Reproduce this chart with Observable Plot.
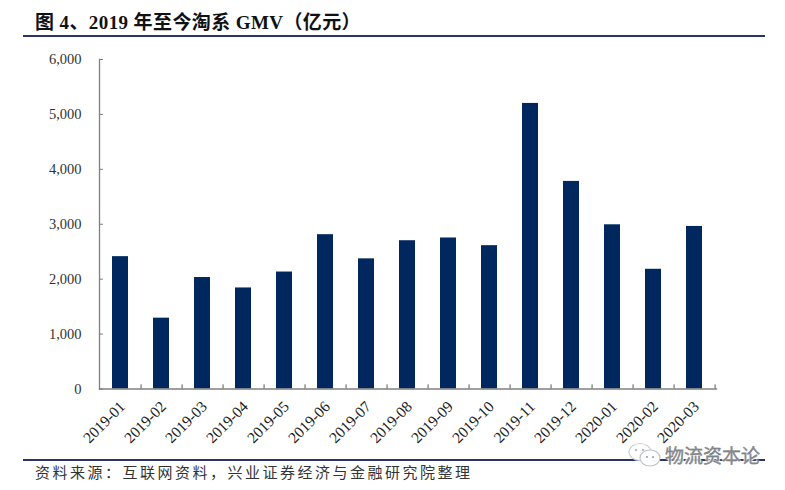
<!DOCTYPE html>
<html><head><meta charset="utf-8">
<script src="https://cdn.jsdelivr.net/npm/d3@7"></script>
<script src="https://cdn.jsdelivr.net/npm/@observablehq/plot@0.6"></script>
<style>
html,body{margin:0;padding:0;background:#fff;width:785px;height:490px;overflow:hidden}
#page{position:relative;width:785px;height:490px}
#title{position:absolute;left:23px;width:742px;top:0;height:35px;border-bottom:2.5px solid #2a3567;box-sizing:content-box;
 font:bold 19px "Liberation Serif","Noto Sans CJK SC",serif;color:#111;line-height:46px;white-space:nowrap;text-indent:12px;letter-spacing:.4px}
#chart{position:absolute;left:0;top:37px}
#source{position:absolute;left:23px;width:742px;top:459px;border-top:2.5px solid #2a3567;
 font:15px "Liberation Serif","Noto Sans CJK SC",serif;color:#333;line-height:25px;text-indent:12px;letter-spacing:2.5px;white-space:nowrap}
#mark{position:absolute;left:665px;top:443px;font:19px "Noto Sans CJK SC",sans-serif;color:#8b8f96;letter-spacing:0;
 -webkit-text-stroke:.3px #666;text-shadow:0 0 2px #fff,1px 1px 1px #fff,-1px -1px 1px #fff;white-space:nowrap;line-height:24px}
#icon{position:absolute;left:627px;top:442px}
svg text{font-family:"Liberation Serif",serif}
</style></head><body><div id="page">
<div id="title">图 4、2019 年至今淘系 GMV（亿元）</div>
<div id="chart"></div>
<div id="source">资料来源：互联网资料，兴业证券经济与金融研究院整理</div>
<svg id="icon" width="36" height="28" viewBox="0 0 36 28">
 <ellipse cx="13" cy="10" rx="11" ry="8.5" fill="#fff" stroke="#cfd2d6" stroke-width="1.2"/>
 <ellipse cx="23" cy="16" rx="10" ry="8" fill="#fff" stroke="#bfc3c8" stroke-width="1.2"/>
 <circle cx="9" cy="8" r="1.2" fill="#bbb"/><circle cx="16" cy="8" r="1.2" fill="#bbb"/>
 <circle cx="20" cy="15" r="1" fill="#999"/><circle cx="26" cy="15" r="1" fill="#999"/>
</svg>
<div id="mark">物流资本论</div>
</div>
<script>
const months = ["2019-01","2019-02","2019-03","2019-04","2019-05","2019-06","2019-07","2019-08","2019-09","2019-10","2019-11","2019-12","2020-01","2020-02","2020-03"];
const gmv = [2410,1290,2030,1840,2130,2810,2370,2700,2750,2610,5200,3780,2990,2180,2960];
const yTicks = [0,1000,2000,3000,4000,5000,6000];
const rows = months.map((m,i)=>({m,v:gmv[i]}));
const W=785,ML=99,MR=69,step=(W-ML-MR)/months.length;
const axisColor="#7f7f7f";
const plot = Plot.plot({
  width:W,height:422,marginLeft:ML,marginRight:MR,marginTop:22,marginBottom:70.5,
  style:{background:"transparent"},
  x:{domain:months,paddingInner:0.6,paddingOuter:0.3,label:null},
  y:{domain:[0,6000],label:null},
  marks:[
    Plot.barY(rows,{x:"m",y:"v",fill:"#00275e"}),
    Plot.axisY({ticks:yTicks,tickFormat:d3.format(","),tickSize:0,tickPadding:18,fontSize:14.5,color:"#333",label:null,stroke:"none"}),
    Plot.tickY(yTicks,{y:d=>d,stroke:axisColor,strokeWidth:1,insetRight:W-ML-MR-4}),
    Plot.ruleX(months,{x:d=>d,y1:0,y2:75,dx:step/2,stroke:"#555",strokeWidth:1}),
    Plot.axisX({tickSize:0,tickRotate:-45,tickPadding:15,fontSize:15.5,color:"#222",textAnchor:"end",label:null,dx:2}),
    Plot.frame({anchor:"left",stroke:axisColor,strokeWidth:1.3}),
    Plot.frame({anchor:"bottom",stroke:axisColor,strokeWidth:1.3})
  ]
});
document.getElementById("chart").append(plot);
</script></body></html>
